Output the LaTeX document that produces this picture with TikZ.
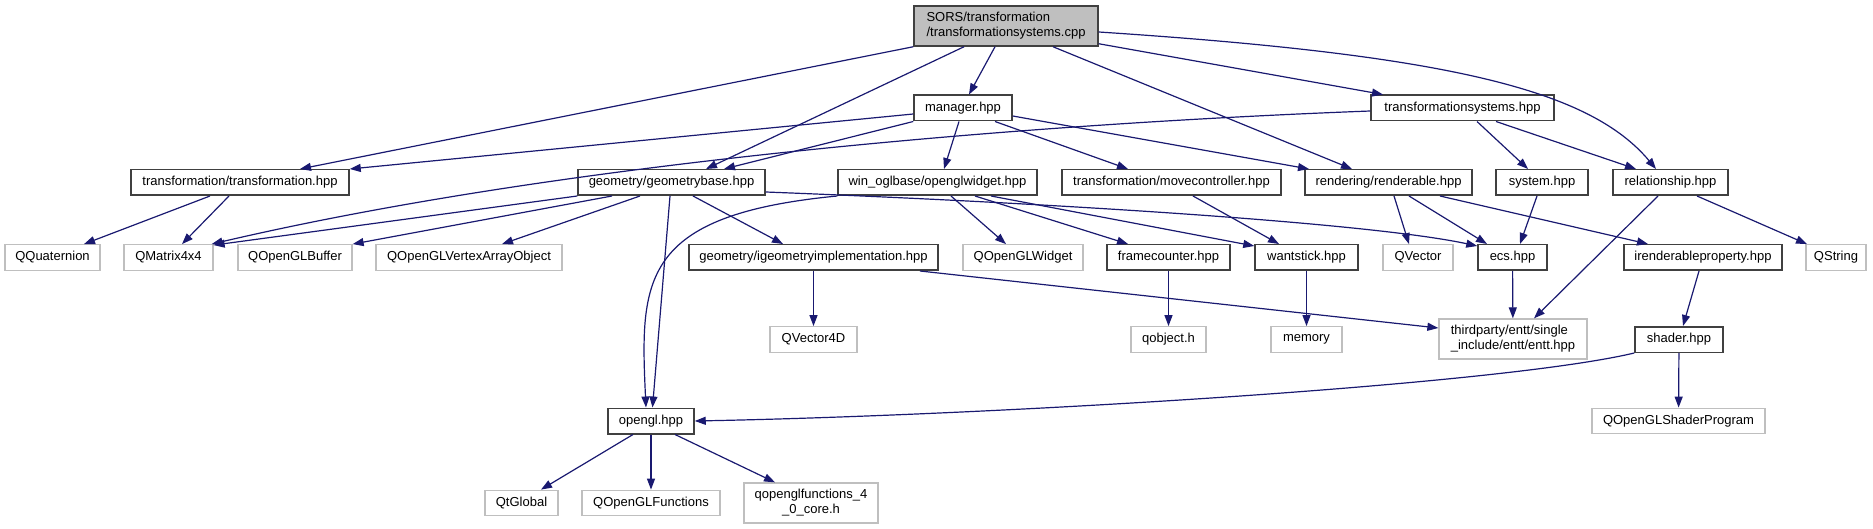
\documentclass[tikz,border=0pt]{standalone}
\usepackage{fontspec}
\setmainfont{Liberation Sans}
\usetikzlibrary{arrows.meta}
\definecolor{edgeblue}{RGB}{25,25,112}
\definecolor{darkborder}{RGB}{64,64,64}
\definecolor{lightborder}{RGB}{191,191,191}
\definecolor{rootfill}{RGB}{191,191,191}
\tikzset{
  box/.style={rectangle, inner sep=0pt, minimum height=25.5, font=\fontsize{13}{15}\selectfont, text=black},
  docbox/.style={box, draw=darkborder, fill=white, line width=1.5pt},
  extbox/.style={box, draw=lightborder, fill=white, line width=1.3pt},
  rootbox/.style={box, draw=darkborder, fill=rootfill, line width=1.5pt},
  dep/.style={draw=edgeblue, line width=1.2pt, -{Triangle[length=11pt,width=8pt]}, fill=none},
}
\begin{document}
\begin{tikzpicture}[x=1pt,y=-1pt]
\useasboundingbox (0,0) rectangle (1873,529);
% rank 0
\node[rootbox, minimum width=184, minimum height=40, align=left] (root) at (1006,26) {SORS/transformation\\/transformationsystems.cpp};
% rank 1
\node[docbox, minimum width=98] (manager) at (963,108) {manager.hpp};
\node[docbox, minimum width=183] (tsys) at (1462.5,108) {transformationsystems.hpp};
% rank 2
\node[docbox, minimum width=218] (trans) at (240,182.5) {transformation/transformation.hpp};
\node[docbox, minimum width=187] (geo) at (671.5,182.5) {geometry/geometrybase.hpp};
\node[docbox, minimum width=199] (glw) at (937.5,182.5) {win\_oglbase/openglwidget.hpp};
\node[docbox, minimum width=219] (movec) at (1171.5,182.5) {transformation/movecontroller.hpp};
\node[docbox, minimum width=167] (rend) at (1388.5,182.5) {rendering/renderable.hpp};
\node[docbox, minimum width=92] (system) at (1542,182.5) {system.hpp};
\node[docbox, minimum width=115] (relat) at (1670.5,182.5) {relationship.hpp};
% rank 3
\node[extbox, minimum width=95] (quat) at (52.5,257.5) {QQuaternion};
\node[extbox, minimum width=89] (mat) at (168.5,257.5) {QMatrix4x4};
\node[extbox, minimum width=114] (buf) at (295,257.5) {QOpenGLBuffer};
\node[extbox, minimum width=186] (vao) at (469,257.5) {QOpenGLVertexArrayObject};
\node[docbox, minimum width=249] (igeo) at (813.5,257.5) {geometry/igeometryimplementation.hpp};
\node[extbox, minimum width=120] (qglw) at (1023,257.5) {QOpenGLWidget};
\node[docbox, minimum width=123] (frame) at (1168.5,257.5) {framecounter.hpp};
\node[docbox, minimum width=103] (want) at (1306.5,257.5) {wantstick.hpp};
\node[extbox, minimum width=70] (qvec) at (1418,257.5) {QVector};
\node[docbox, minimum width=69] (ecs) at (1512.5,257.5) {ecs.hpp};
\node[docbox, minimum width=158] (irend) at (1703,257.5) {irenderableproperty.hpp};
\node[extbox, minimum width=60] (qstr) at (1836,257.5) {QString};
% rank 4
\node[extbox, minimum width=87] (qv4) at (813.5,339.5) {QVector4D};
\node[extbox, minimum width=75] (qobj) at (1168.5,339.5) {qobject.h};
\node[extbox, minimum width=71] (mem) at (1306.5,339.5) {memory};
\node[extbox, minimum width=148, minimum height=40, align=left] (entt) at (1513,339) {thirdparty/entt/single\\\_include/entt/entt.hpp};
\node[docbox, minimum width=88] (shader) at (1679,339.5) {shader.hpp};
% rank 5
\node[docbox, minimum width=86] (opengl) at (651,421) {opengl.hpp};
\node[extbox, minimum width=173] (prog) at (1678.5,421) {QOpenGLShaderProgram};
% rank 6
\node[extbox, minimum width=73] (qtg) at (521.5,503) {QtGlobal};
\node[extbox, minimum width=138] (qglf) at (651,503) {QOpenGLFunctions};
\node[extbox, minimum width=134, minimum height=40, align=center] (qgl4) at (811,503) {qopenglfunctions\_4\\\_0\_core.h};

% edges from root
\draw[dep] (root.south west) -- ([xshift=60]trans.north);
\draw[dep] ([xshift=-42]root.south) -- ([xshift=34.5]geo.north);
\draw[dep] ([xshift=-11]root.south) -- ([xshift=6]manager.north);
\draw[dep] ([xshift=47]root.south) -- ([xshift=-36.5]rend.north);
\draw[dep] ([yshift=3]root.south east) -- ([xshift=-79.5]tsys.north);
\draw[dep] ([yshift=-6]root.east) .. controls (1450,55) and (1590,90) .. ([xshift=-14.5]relat.north);
% manager
\draw[dep] ([yshift=-6]manager.west) -- (trans.north east);
\draw[dep] (manager.south west) -- ([xshift=52.5]geo.north);
\draw[dep] ([xshift=-4]manager.south) -- ([xshift=6.5]glw.north);
\draw[dep] ([xshift=32]manager.south) -- ([xshift=-43.5]movec.north);
\draw[dep] ([yshift=-8]manager.east) -- ([xshift=-79.5]rend.north);
% tsys
\draw[dep] ([yshift=-3]tsys.west) .. controls (1000,125) and (550,165) .. ([xshift=-2]mat.north east);
\draw[dep] ([xshift=14.5]tsys.south) -- ([xshift=-14]system.north);
\draw[dep] ([xshift=33.5]tsys.south) -- ([xshift=-34.5]relat.north);
% transformation
\draw[dep] ([xshift=-30]trans.south) -- ([xshift=31.5]quat.north);
\draw[dep] ([xshift=-11]trans.south) -- ([xshift=13.5]mat.north);
% geometrybase
\draw[dep] (geo.south west) -- ([yshift=-1]mat.north east);
\draw[dep] ([xshift=-59.5]geo.south) -- (buf.north east);
\draw[dep] ([xshift=-31.5]geo.south) -- ([xshift=33]vao.north);
\draw[dep] ([xshift=-1.5]geo.south) -- ([xshift=1.5]opengl.north);
\draw[dep] ([xshift=21.5]geo.south) -- ([xshift=-30.5]igeo.north);
\draw[dep] ([yshift=-9.5]geo.east) .. controls (1100,205) and (1380,225) .. ([yshift=-2]ecs.north west);
% openglwidget
\draw[dep] (glw.south west) .. controls (640,215) and (640,280) .. ([xshift=-5]opengl.north);
\draw[dep] ([xshift=13.5]glw.south) -- ([xshift=-17]qglw.north);
\draw[dep] ([xshift=37.5]glw.south) -- ([xshift=-40.5]frame.north);
\draw[dep] ([xshift=53.5]glw.south) -- ([yshift=-2]want.north west);
% movecontroller
\draw[dep] ([xshift=21.5]movec.south) -- ([xshift=-27.5]want.north);
% renderable
\draw[dep] ([xshift=5.5]rend.south) -- ([xshift=-9]qvec.north);
\draw[dep] ([xshift=20.5]rend.south) -- ([xshift=-25.5]ecs.north);
\draw[dep] ([xshift=51.5]rend.south) -- ([xshift=-55]irend.north);
% system, relationship
\draw[dep] ([xshift=-5]system.south) -- ([xshift=7.5]ecs.north);
\draw[dep] ([xshift=-12.5]relat.south) -- ([xshift=21]entt.north);
\draw[dep] ([xshift=26.5]relat.south) -- ([xshift=-29]qstr.north);
% rank 3 down
\draw[dep] (ecs) -- (entt);
\draw[dep] (igeo) -- (qv4);
\draw[dep] ([xshift=106.5]igeo.south) -- ([yshift=11]entt.west);
\draw[dep] (frame) -- (qobj);
\draw[dep] (want) -- (mem);
\draw[dep] ([xshift=-4]irend.south) -- ([xshift=4]shader.north);
% shader
\draw[dep] (shader.south west) .. controls (1500,385) and (1000,415) .. (opengl.east);
\draw[dep] (shader) -- (prog);
% opengl
\draw[dep] ([xshift=-18]opengl.south) -- ([xshift=19.5]qtg.north);
\draw[dep] (opengl) -- (qglf);
\draw[dep] ([xshift=24]opengl.south) -- ([xshift=-36]qgl4.north);
\end{tikzpicture}
\end{document}
